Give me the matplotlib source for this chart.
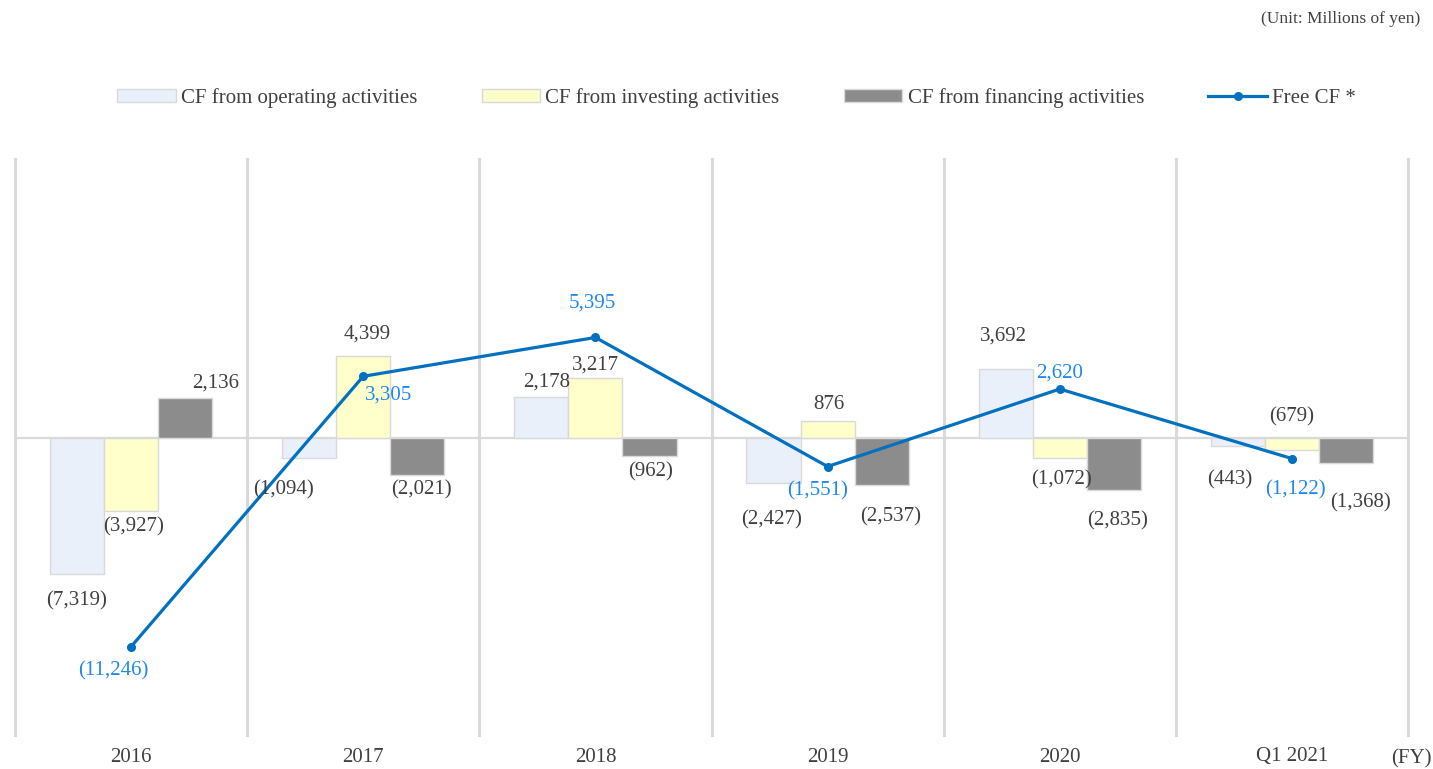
import matplotlib
matplotlib.use("Agg")
import matplotlib.pyplot as plt
from matplotlib.patches import Patch
from matplotlib.lines import Line2D
import numpy as np

plt.rcParams['font.family'] = ['Liberation Serif', 'DejaVu Serif']

years = ["2016", "2017", "2018", "2019", "2020", "Q1 2021"]
cf_operating = [-7319, -1094, 2178, -2427, 3692, -443]
cf_investing = [-3927, 4399, 3217, 876, -1072, -679]
cf_financing = [2136, -2021, -962, -2537, -2835, -1368]
free_cf = [-11246, 3305, 5395, -1551, 2620, -1122]

# label nudges in pixels (dx, dy), tuned by eye
off_op = [(0, -27), (-26, -32), (5, 15), (-2, -37), (-2, 33), (-8, -34)]
off_inv = [(2, -16), (4, 22), (0, 13), (1, 17), (2, -22), (0, 33)]
off_fin = [(30, 15), (4, -15), (1, -16), (9, -32), (4, -30), (14, -40)]
off_free = [(-18, -24), (25, -19), (-3, 34), (-10, -24), (0, 16), (4, -31)]

c_op = "#EAF0FA"
c_inv = "#FFFFCC"
c_fin = "#8C8C8C"
c_line = "#0070C0"
c_free_txt = "#1E88F0"
c_txt = "#404040"
c_grid = "#D9D9D9"
fs = 15

def fmt(v):
    if v < 0:
        return "({:,})".format(-v)
    return "{:,}".format(v)

fig = plt.figure(figsize=(14.33, 7.69), dpi=100)
ax = fig.add_axes([15/1433, 34/769, 1393/1433, 576/769])

x = np.arange(len(years))
w = 0.233

ax.bar(x - w, cf_operating, w, color=c_op, edgecolor=c_grid, linewidth=1, zorder=2)
ax.bar(x, cf_investing, w, color=c_inv, edgecolor=c_grid, linewidth=1, zorder=2)
ax.bar(x + w, cf_financing, w, color=c_fin, edgecolor=c_grid, linewidth=1, zorder=2)
ax.plot(x, free_cf, color=c_line, lw=2.3, marker="o", markersize=5.5, zorder=4)

ax.axhline(0, color=c_grid, lw=1.6, zorder=1)
for b in np.arange(-0.5, len(years), 1.0):
    ax.axvline(b, color=c_grid, lw=2.2, zorder=1, clip_on=False)

ax.set_xlim(-0.5, len(years) - 0.5)
ax.set_ylim(-16000, 15000)
for s in ax.spines.values():
    s.set_visible(False)
ax.set_yticks([])
ax.set_xticks(x)
ax.set_xticklabels(years, fontsize=fs, color=c_txt)
ax.tick_params(axis="x", length=0, pad=9)

def put_labels(xs, vals, offs, color):
    for xi, v, (dx, dy) in zip(xs, vals, offs):
        ax.annotate(fmt(v), xy=(xi, v), xytext=(dx, dy), textcoords="offset pixels",
                    ha="center", va="center", fontsize=fs, color=color, zorder=5)

put_labels(x - w, cf_operating, off_op, c_txt)
put_labels(x, cf_investing, off_inv, c_txt)
put_labels(x + w, cf_financing, off_fin, c_txt)
put_labels(x, free_cf, off_free, c_free_txt)

handles = [
    Patch(facecolor=c_op, edgecolor=c_grid, label="CF from operating activities"),
    Patch(facecolor=c_inv, edgecolor=c_grid, label="CF from investing activities"),
    Patch(facecolor=c_fin, edgecolor=c_grid, label="CF from financing activities"),
    Line2D([], [], color=c_line, lw=2.3, marker="o", markersize=5.5, label="Free CF *"),
]
fig.legend(handles=handles, loc="center", bbox_to_anchor=(0.514, 1 - 98/769), ncol=4,
           frameon=False, fontsize=fs, handlelength=2.8, handleheight=0.6,
           handletextpad=0.25, columnspacing=3.1, labelcolor=c_txt)

fig.text(1420/1433, 1 - 19/769, "(Unit: Millions of yen)", ha="right", va="center",
         fontsize=12.5, color=c_txt)
fig.text(1391/1433, 1 - 759/769, "(FY)", ha="left", va="center", fontsize=fs, color=c_txt)

fig.savefig("out.png", dpi=100)
